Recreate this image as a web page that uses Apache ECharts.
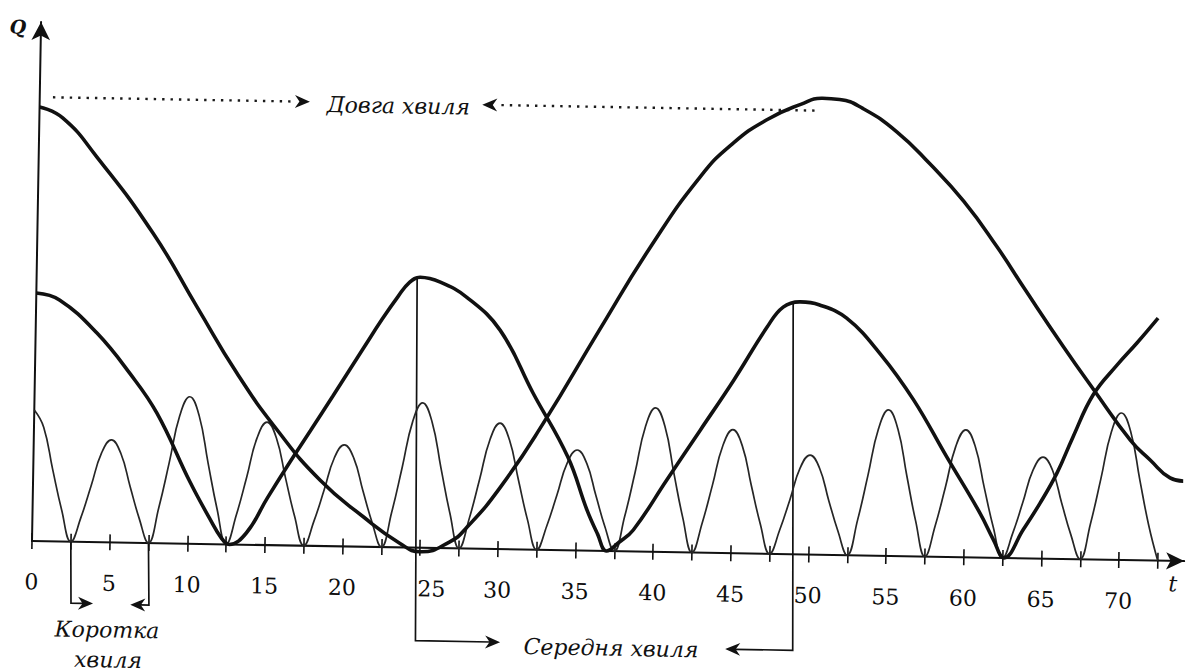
<!DOCTYPE html>
<html><head><meta charset="utf-8">
<script src="https://cdn.jsdelivr.net/npm/echarts@6.0.0/dist/echarts.min.js"></script>
<style>
html,body{margin:0;padding:0;background:#fff;width:1194px;height:672px;overflow:hidden}
#chart{position:absolute;left:0;top:0;width:1194px;height:672px;transform:rotate(1deg);transform-origin:32px 541px}
</style></head><body><div id="chart"></div>
<script>
// ---- data (t = time, Q = value) ----
const xTicks = [0,2.5,5,7.5,10,12.5,15,17.5,20,22.5,25,27.5,30,32.5,35,37.5,40,42.5,45,47.5,50,52.5,55,57.5,60,62.5,65,67.5,70,72.5];
const xLabels = [0,5,10,15,20,25,30,35,40,45,50,55,60,65,70];

const longWave = [[0,86.8],[1.5,84.7],[3.75,77.0],[7.44,62.0],[10.36,47.4],[13.0,34.3],[15.65,23.1],[18.47,13.2],[21.3,6.0],[23.7,0.8],[25.0,-0.8],[26.9,1.3],[28.0,4.3],[30.1,12.4],[32.8,25.4],[36.3,44.2],[39.5,61.0],[42.6,75.1],[44.7,82.0],[46.9,86.9],[49.0,90.0],[50.4,91.3],[51.5,91.1],[53.0,89.4],[55.2,84.9],[57.4,78.5],[59.6,71.2],[61.8,62.2],[63.6,54.0],[66.2,42.4],[68.2,33.9],[70.6,24.0],[71.9,20.1],[73.2,16.6],[74.05,16.0]];

const mediumWave = [[0,49.6],[1.5,48.3],[3.95,41.8],[6.1,33.9],[7.9,26.0],[10.1,12.4],[11.4,5.2],[12.2,1.2],[12.7,0],[13.8,2.4],[15.1,9.4],[16.5,16.6],[17.8,23.0],[19.2,30.0],[21.1,39.6],[22.3,45.6],[23.3,50.2],[24.0,53.0],[24.7,54.1],[26.0,53.2],[27.7,50.3],[29.9,43.8],[32.1,31.3],[34.4,18.7],[35.7,8.1],[36.4,3.4],[37.0,0],[37.8,1.8],[38.7,4.3],[40.8,14.4],[42.9,24.5],[45.0,34.6],[47.1,45.4],[48.1,49.4],[49.2,50.5],[50.4,50.0],[52.2,47.4],[54.4,40.4],[56.6,31.3],[58.8,20.0],[61.0,8.9],[61.9,3.6],[62.6,0],[63.8,5.7],[64.86,11.1],[65.92,17.2],[66.9,24.4],[68.15,32.9],[69.67,39.0],[70.93,43.5],[72.25,48.5]];

const shortWave = [[0,26.2],[0.625,22.8],[1.25,14.4],[1.875,6.3],[2.5,0],
[3.125,4.9],[3.75,11.3],[4.375,17.8],[5,20.5],[5.625,17.8],[6.25,11.3],[6.875,4.9],[7.5,0],
[8.125,7.1],[8.75,16.2],[9.375,25.6],[10,29.4],[10.625,25.6],[11.25,16.2],[11.875,7.1],[12.5,0],
[13.125,5.9],[13.75,13.5],[14.375,21.4],[15,24.6],[15.625,21.4],[16.25,13.5],[16.875,5.9],[17.5,0],
[18.125,4.9],[18.75,11.2],[19.375,17.7],[20,20.3],[20.625,17.7],[21.25,11.2],[21.875,4.9],[22.5,0],
[23.125,7.0],[23.75,16.0],[24.375,25.2],[25,29.0],[25.625,25.2],[26.25,16.0],[26.875,7.0],[27.5,0],
[28.125,6.0],[28.75,13.9],[29.375,21.9],[30,25.2],[30.625,21.9],[31.25,13.9],[31.875,6.0],[32.5,0],
[33.125,4.8],[33.75,11.1],[34.375,17.5],[35,20.1],[35.625,17.5],[36.25,11.1],[36.875,4.8],[37.5,0],
[38.125,6.9],[38.75,15.8],[39.375,25.1],[40,28.8],[40.625,25.1],[41.25,15.8],[41.875,6.9],[42.5,0],
[43.125,5.9],[43.75,13.6],[44.375,21.5],[45,24.7],[45.625,21.5],[46.25,13.6],[46.875,5.9],[47.5,0],
[48.125,4.8],[48.75,10.9],[49.375,17.3],[50,19.9],[50.625,17.3],[51.25,10.9],[51.875,4.8],[52.5,0],
[53.125,7.0],[53.75,16.1],[54.375,25.4],[55,29.2],[55.625,25.4],[56.25,16.1],[56.875,7.0],[57.5,0],
[58.125,6.1],[58.75,14.0],[59.375,22.2],[60,25.5],[60.625,22.2],[61.25,14.0],[61.875,6.1],[62.5,0],
[63.125,4.9],[63.75,11.2],[64.375,17.7],[65,20.3],[65.625,17.7],[66.25,11.2],[66.875,4.9],[67.5,0],
[68.125,7.1],[68.75,16.2],[69.375,25.6],[70,29.4],[70.625,25.6],[71.25,16.2],[71.875,7.1],[72.5,0]];

// annotation anchors (data units)
const dottedArrows = [
  {from:[0.85,88.8], tip:[17.4,88.8], dir:1},
  {from:[49.9,88.8], tip:[28.5,88.8], dir:-1}
];
const bracketArrows = [
  {path:[[24.5,54.1],[24.8,-18.6]], tip:[30.25,-18.6], dir:1},
  {path:[[48.74,50.2],[49.1,-19.2]], tip:[44.75,-19.2], dir:-1},
  {path:[[2.5,0],[2.58,-12.3]], tip:[4.0,-12.3], dir:1},
  {path:[[7.5,0],[7.6,-12.4]], tip:[6.4,-12.4], dir:-1}
];
const noteTexts = [
  {text:'Довга хвиля', at:[23.1,88.3]},
  {text:'Середня хвиля', at:[37.4,-19.4]},
  {text:'Коротка', at:[4.93,-17.5]},
  {text:'хвиля', at:[5.03,-23.5]}
];

const INK = '#111111';
const SERIF = '"DejaVu Serif", "Liberation Serif", serif';

const chart = echarts.init(document.getElementById('chart'), null, {renderer:'svg', width:1194, height:672});

const option = {
  animation:false,
  backgroundColor:'#ffffff',
  grid:{left:32, top:22, width:1152.3, height:519, containLabel:false},
  xAxis:[{
    type:'value', min:0, max:74.2, position:'bottom',
    axisLine:{show:true, symbol:['none','arrow'], symbolSize:[13,18], lineStyle:{color:INK, width:2}},
    axisTick:{show:true, length:8, inside:false, customValues:xTicks, lineStyle:{color:INK, width:1.6}},
    axisLabel:{show:true, customValues:xLabels, margin:30, color:'#0d0d0d', fontFamily:SERIF, fontSize:22,
      formatter: v => (v === 25 ? '{s|25}' : String(v)),
      rich:{s:{padding:[0,0,0,24], color:'#0d0d0d', fontFamily:SERIF, fontSize:22}}},
    splitLine:{show:false}
  },{
    type:'value', min:0, max:74.2, position:'bottom',
    axisLine:{show:false},
    axisTick:{show:true, length:8, inside:true, customValues:xTicks, lineStyle:{color:INK, width:1.6}},
    axisLabel:{show:false},
    splitLine:{show:false}
  }],
  yAxis:{
    type:'value', min:0, max:103.8,
    axisLine:{show:true, symbol:['none','arrow'], symbolSize:[14,18], lineStyle:{color:INK, width:2}},
    axisTick:{show:false}, axisLabel:{show:false}, splitLine:{show:false}
  },
  series:[
    {name:'Коротка хвиля', type:'line', data:shortWave, smooth:0.45, symbol:'none', clip:false, silent:true,
     lineStyle:{color:'#262626', width:1.7}, z:2},
    {name:'Середня хвиля', type:'line', data:mediumWave, smooth:0.42, symbol:'none', clip:false, silent:true,
     lineStyle:{color:INK, width:3.6}, z:3},
    {name:'Довга хвиля', type:'line', data:longWave, smooth:0.5, symbol:'none', clip:false, silent:true,
     lineStyle:{color:INK, width:3.6}, z:3}
  ]
};
chart.setOption(option);

const P = p => chart.convertToPixel({xAxisIndex:0, yAxisIndex:0}, p);
function head(tip, dir){
  const L = 15, W = 6.5, N = 10.5;
  return [[tip[0], tip[1]], [tip[0]-dir*L, tip[1]-W], [tip[0]-dir*N, tip[1]], [tip[0]-dir*L, tip[1]+W]];
}
const g = [];
dottedArrows.forEach(a => {
  const f = P(a.from), t = P(a.tip);
  g.push({type:'polyline', silent:true, shape:{points:[f, [t[0]-a.dir*14, t[1]]]},
          style:{stroke:'#1a1a1a', lineWidth:2.4, lineDash:[2.4,6], fill:null}});
  g.push({type:'polygon', silent:true, shape:{points:head(t, a.dir)}, style:{fill:INK}});
});
bracketArrows.forEach(a => {
  const pts = a.path.map(P), t = P(a.tip);
  pts.push([t[0]-a.dir*10, t[1]]);
  g.push({type:'polyline', silent:true, shape:{points:pts}, style:{stroke:INK, lineWidth:1.7, fill:null}});
  g.push({type:'polygon', silent:true, shape:{points:head(t, a.dir)}, style:{fill:INK}});
});
noteTexts.forEach(n => {
  const p = P(n.at);
  g.push({type:'text', silent:true, x:p[0], y:p[1],
          style:{text:n.text, fontFamily:SERIF, fontStyle:'italic', fontSize:22, fill:'#111',
                 align:'center', verticalAlign:'middle', textAlign:'center', textVerticalAlign:'middle'}});
});
const qp = P([-1.48,102.8]);
g.push({type:'text', silent:true, x:qp[0], y:qp[1],
        style:{text:'Q', fontFamily:SERIF, fontStyle:'italic', fontWeight:'bold', fontSize:19, fill:'#111',
               align:'center', verticalAlign:'middle', textAlign:'center', textVerticalAlign:'middle'}});
const tp = P([73.5,-4.6]);
g.push({type:'text', silent:true, x:tp[0], y:tp[1],
        style:{text:'t', fontFamily:SERIF, fontStyle:'italic', fontSize:22, fill:'#111',
               align:'center', verticalAlign:'middle', textAlign:'center', textVerticalAlign:'middle'}});
chart.setOption({graphic:{elements:g}});
</script>
</body></html>
